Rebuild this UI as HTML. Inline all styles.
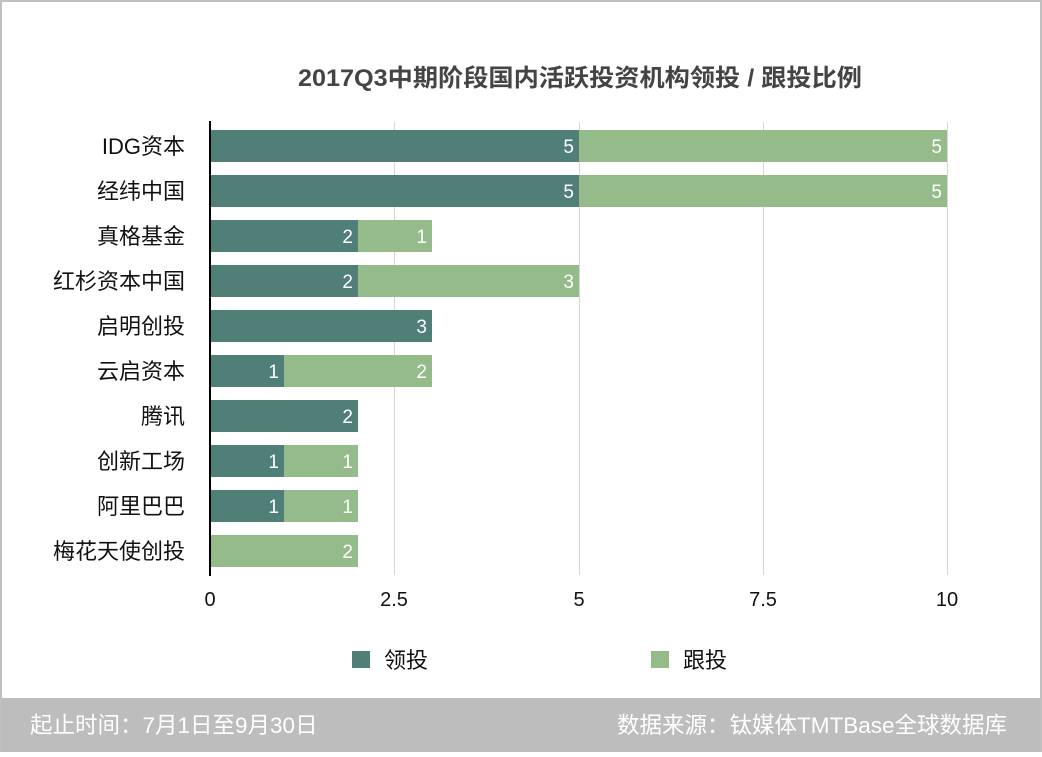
<!DOCTYPE html>
<html><head><meta charset="utf-8"><style>
html,body{margin:0;padding:0;background:#fff;}
body{width:1042px;height:752px;overflow:hidden;}
text{font-family:"Liberation Sans","Noto Sans CJK SC",sans-serif;}
</style></head><body>
<svg width="1042" height="752" xmlns="http://www.w3.org/2000/svg">
<rect x="1" y="1" width="1040" height="750" fill="#fff" stroke="#c0c0c0" stroke-width="2"/>
<text x="580" y="86" text-anchor="middle" font-size="24" font-weight="bold" fill="#444" textLength="564" lengthAdjust="spacingAndGlyphs">2017Q3中期阶段国内活跃投资机构领投 / 跟投比例</text>
<g stroke="#d6d6d6" stroke-width="1">
<line x1="394.5" y1="122" x2="394.5" y2="575"/>
<line x1="579.5" y1="122" x2="579.5" y2="575"/>
<line x1="763.5" y1="122" x2="763.5" y2="575"/>
<line x1="947.5" y1="122" x2="947.5" y2="575"/>
</g>
<g font-size="19" fill="#fff" text-anchor="end">
<rect x="211" y="130" width="368" height="32" fill="#4f7f77"/><rect x="579" y="130" width="368" height="32" fill="#94bb89"/>
<text x="574" y="153">5</text><text x="942" y="153">5</text>
<rect x="211" y="175" width="368" height="32" fill="#4f7f77"/><rect x="579" y="175" width="368" height="32" fill="#94bb89"/>
<text x="574" y="198">5</text><text x="942" y="198">5</text>
<rect x="211" y="220" width="147" height="32" fill="#4f7f77"/><rect x="358" y="220" width="74" height="32" fill="#94bb89"/>
<text x="353" y="243">2</text><text x="427" y="243">1</text>
<rect x="211" y="265" width="147" height="32" fill="#4f7f77"/><rect x="358" y="265" width="221" height="32" fill="#94bb89"/>
<text x="353" y="288">2</text><text x="574" y="288">3</text>
<rect x="211" y="310" width="221" height="32" fill="#4f7f77"/>
<text x="427" y="333">3</text>
<rect x="211" y="355" width="73" height="32" fill="#4f7f77"/><rect x="284" y="355" width="148" height="32" fill="#94bb89"/>
<text x="279" y="378">1</text><text x="427" y="378">2</text>
<rect x="211" y="400" width="147" height="32" fill="#4f7f77"/>
<text x="353" y="423">2</text>
<rect x="211" y="445" width="73" height="32" fill="#4f7f77"/><rect x="284" y="445" width="74" height="32" fill="#94bb89"/>
<text x="279" y="468">1</text><text x="353" y="468">1</text>
<rect x="211" y="490" width="73" height="32" fill="#4f7f77"/><rect x="284" y="490" width="74" height="32" fill="#94bb89"/>
<text x="279" y="513">1</text><text x="353" y="513">1</text>
<rect x="211" y="535" width="147" height="32" fill="#94bb89"/>
<text x="353" y="558">2</text>
</g>
<line x1="210" y1="121" x2="210" y2="576" stroke="#000" stroke-width="2"/>
<g font-size="22" fill="#111" text-anchor="end">
<text x="185" y="154">IDG资本</text>
<text x="185" y="199">经纬中国</text>
<text x="185" y="244">真格基金</text>
<text x="185" y="289">红杉资本中国</text>
<text x="185" y="334">启明创投</text>
<text x="185" y="379">云启资本</text>
<text x="185" y="424">腾讯</text>
<text x="185" y="469">创新工场</text>
<text x="185" y="514">阿里巴巴</text>
<text x="185" y="559">梅花天使创投</text>
</g>
<g font-size="20" fill="#111" text-anchor="middle">
<text x="210" y="606">0</text><text x="394" y="606">2.5</text><text x="579" y="606">5</text><text x="763" y="606">7.5</text><text x="947" y="606">10</text>
</g>
<rect x="352" y="651" width="18" height="17" fill="#4f7f77"/>
<text x="384" y="668" font-size="22" fill="#111">领投</text>
<rect x="651" y="651" width="18" height="17" fill="#94bb89"/>
<text x="683" y="668" font-size="22" fill="#111">跟投</text>
<rect x="2" y="698" width="1038" height="54" fill="#bdbdbd"/>
<text x="30" y="733" font-size="22.5" fill="#fff">起止时间：7月1日至9月30日</text>
<text x="1007" y="733" font-size="22.5" fill="#fff" text-anchor="end">数据来源：钛媒体TMTBase全球数据库</text>
</svg>
</body></html>
